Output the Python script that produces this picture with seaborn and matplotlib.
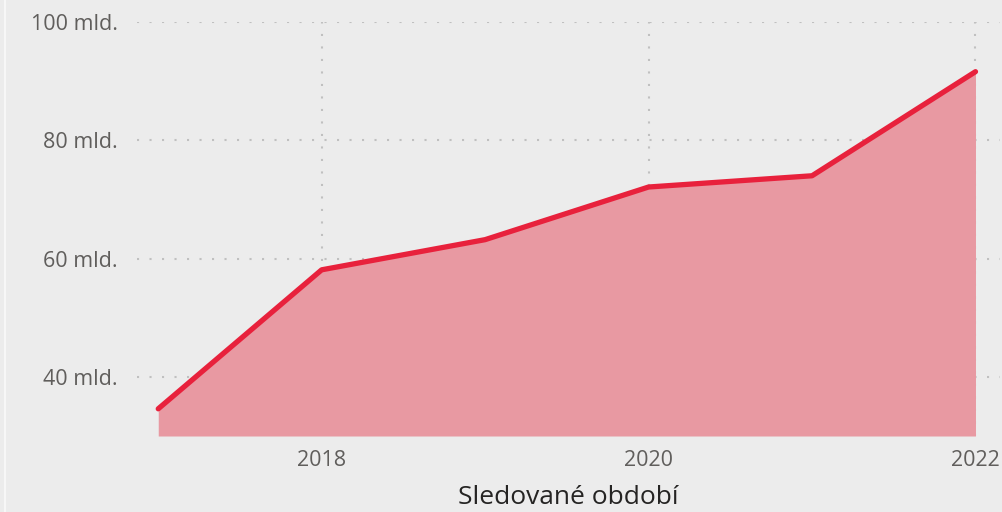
import numpy as np
import matplotlib
matplotlib.use("Agg")
import matplotlib.pyplot as plt
import seaborn as sns
from matplotlib.lines import Line2D

# data (values in mld.)
years = [2017, 2018, 2019, 2020, 2021, 2022]
values = [34.6, 58.1, 63.2, 72.1, 74.0, 91.6]
x_ticks = [2018, 2020, 2022]
y_ticks = [40, 60, 80, 100]

sns.set_theme(style="white")
plt.rcParams['font.family'] = ['Open Sans', 'DejaVu Sans']

bg = '#ececec'
line_color = '#e8213c'
fill_color = '#e899a2'

fig = plt.figure(figsize=(10.03, 5.12), dpi=100, facecolor=bg)
ax = fig.add_axes([137 / 1003, 1 - 436 / 512, 863 / 1003, 414 / 512])
ax.set_facecolor(bg)

ax.fill_between(years, values, 30, color=fill_color, lw=0, zorder=2)
sns.lineplot(x=years, y=values, ax=ax, color=line_color, linewidth=3.8,
             solid_capstyle='round', solid_joinstyle='round', zorder=3)

ax.set_xlim(2016.87, 2022.15)
ax.set_ylim(30, 100)
ax.set_xticks(x_ticks)
ax.set_yticks(y_ticks)
ax.set_yticklabels([f"{v} mld." for v in y_ticks])
ax.tick_params(axis='both', length=0, labelsize=15.5, labelcolor='#605e5c')
ax.tick_params(axis='y', pad=14)
ax.tick_params(axis='x', pad=10)

ax.grid(True, color='#c0c0c0', linestyle=(0, (1, 5)), linewidth=1.5, zorder=1)
ax.set_axisbelow(True)
for s in ax.spines.values():
    s.set_visible(False)

ax.set_xlabel('Sledované období', fontsize=19, color='#252423', labelpad=10.5)

# thin light border on the left side of the visual
fig.add_artist(Line2D([5 / 1003, 5 / 1003], [0, 1], color='#f7f7f7', lw=1.5,
                      transform=fig.transFigure))

fig.savefig('out.png', dpi=100, facecolor=bg)
